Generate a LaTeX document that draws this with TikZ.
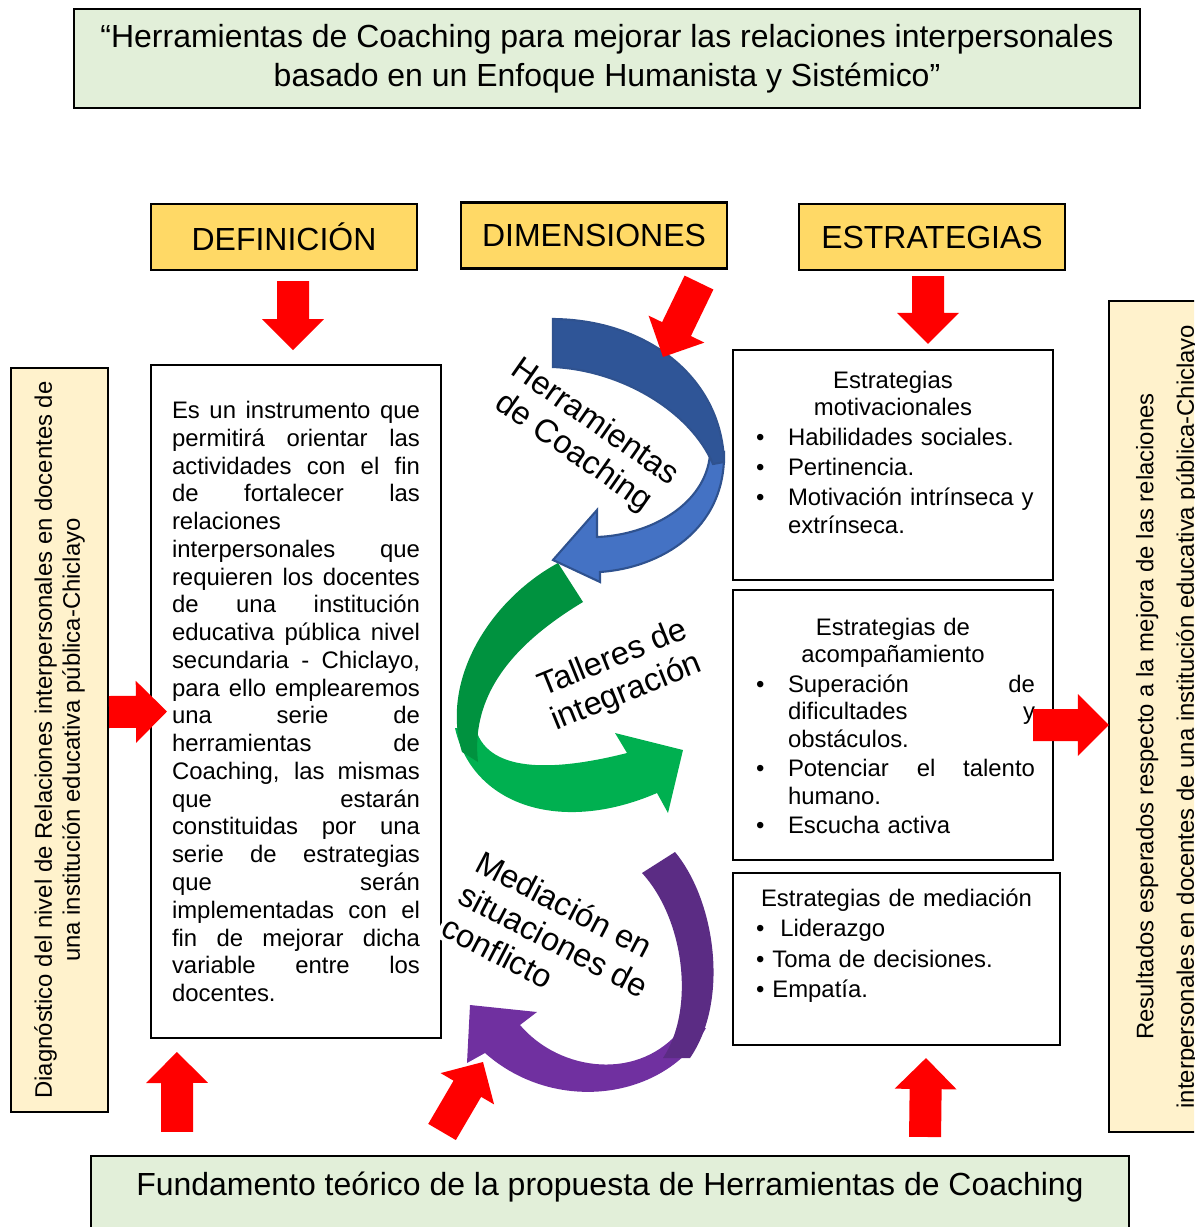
\documentclass[tikz,border=0pt]{standalone}
\usepackage{fontspec}
\setmainfont{Liberation Sans}
\usetikzlibrary{calc, positioning}
\definecolor{titlegreen}{HTML}{E2EFD9}
\definecolor{headgold}{HTML}{FFD966}
\definecolor{sidecream}{HTML}{FFF2CC}
\definecolor{arrowred}{HTML}{FF0000}
\definecolor{bluedark}{HTML}{2F5597}
\definecolor{bluelight}{HTML}{4472C4}
\definecolor{blueedge}{HTML}{2F528F}
\definecolor{greendark}{HTML}{00923F}
\definecolor{greenlight}{HTML}{00B050}
\definecolor{purpledark}{HTML}{5B2C84}
\definecolor{purplelight}{HTML}{7030A0}
\newcommand\titlesize{\fontsize{18.2}{22.2}\selectfont}
\newcommand\bodysize{\fontsize{13.6}{15.8}\selectfont}
\newcommand\sidesize{\fontsize{13.6}{16}\selectfont}
\newcommand\armsize{\fontsize{18.5}{20.8}\selectfont}
\newcommand\bul[1]{\par\leftskip=0pt\rightskip=0pt\parfillskip=0pt plus 1fil\hangindent=0.74cm\hangafter=1\noindent\makebox[0.74cm][l]{\hspace{0.1cm}\textbullet}#1}
\hyphenpenalty=10000
\exhyphenpenalty=10000

\begin{document}
\begin{tikzpicture}[x=0.02cm, y=-0.02cm]
      \tikzstyle{headbox}=[draw, line width=1.2pt, fill=headgold, minimum width=5.32cm, minimum height=1.32cm, font=\titlesize]
      \tikzstyle{plainbox}=[draw, line width=1.2pt, fill=white]
      \tikzstyle{sidebox}=[draw, line width=1.2pt, fill=sidecream, rotate=90, align=center, font=\sidesize]
      \tikzstyle{esttext}=[inner sep=0pt, text width=5.68cm, font=\bodysize]
      \tikzstyle{armlabel}=[fill=white, inner sep=2pt, align=center, font=\armsize]
      \tikzstyle{fatarrow}=[fill=arrowred, to path={let \p1=(\tikztostart), \p2=(\tikztotarget), \p3=($(\p2)!0.62cm!(\p1)$) in
        ($(\p1)!0.32cm!90:(\p2)$) -- ($(\p3)!0.32cm!90:(\p2)$) -- ($(\p3)!0.62cm!90:(\p2)$) -- (\p2)
        -- ($(\p3)!0.62cm!-90:(\p2)$) -- ($(\p3)!0.32cm!-90:(\p2)$) -- ($(\p1)!0.32cm!-90:(\p2)$) -- cycle}]
      \useasboundingbox (0,0) rectangle (1194,1227);
      \clip (0,0) rectangle (1194,1227);

      \node[draw, line width=1.2pt, fill=titlegreen, minimum width=21.32cm, minimum height=1.98cm, align=center, font=\titlesize] (title) at (607,58.5)
        {“Herramientas de Coaching para mejorar las relaciones interpersonales\\basado en un Enfoque Humanista y Sistémico”};
      \node[headbox] (defhead) at (284,237) {DEFINICIÓN};
      \node[headbox] (dimhead) at (594,235.5) {DIMENSIONES};
      \node[headbox] (esthead) at (932,237) {ESTRATEGIAS};

      \node[sidebox, minimum width=14.88cm, minimum height=1.94cm] (diag) at (59.5,740)
        {Diagnóstico del nivel de Relaciones interpersonales en docentes de\\una institución educativa pública-Chiclayo};
      \node[sidebox, minimum width=16.62cm, minimum height=2.34cm, font=\fontsize{13.6}{23}\selectfont] (res) at (1167.5,716.5)
        {Resultados esperados respecto a la mejora de las relaciones\\interpersonales en docentes de una institución educativa pública-Chiclayo};

      \node[plainbox, minimum width=5.8cm, minimum height=13.46cm, text width=4.96cm, align=justify, font=\bodysize] (defbox) at (296,701.5)
        {Es un instrumento que\linebreak permitirá orientar las\linebreak actividades con el fin\linebreak de fortalecer las\linebreak relaciones\linebreak
         interpersonales que\linebreak requieren los docentes\linebreak de una institución\linebreak educativa pública nivel\linebreak
         secundaria - Chiclayo,\linebreak para ello emplearemos\linebreak una serie de\linebreak herramientas de\linebreak
         Coaching, las mismas\linebreak que estarán\linebreak constituidas por una\linebreak serie de estrategias\linebreak que serán\linebreak
         implementadas con el\linebreak fin de mejorar dicha\linebreak variable entre los\linebreak docentes.};

      \node[plainbox, minimum width=6.4cm, minimum height=4.6cm] (est1) at (893,465) {};
      \node[esttext, below=0.43cm of est1.north] (est1text)
        {\parskip=1.2pt\centering Estrategias\\motivacionales
         \bul{Habilidades sociales.}
         \bul{Pertinencia.}
         \bul{Motivación intrínseca y\linebreak extrínseca.}\par};
      \node[plainbox, minimum width=6.4cm, minimum height=5.4cm] (est2) at (893,725) {};
      \node[esttext, below=0.57cm of est2.north] (est2text)
        {\parskip=0.8pt\centering Estrategias de\\acompañamiento
         \bul{Superación\hfill de\linebreak dificultades\hfill y\linebreak obstáculos.}
         \bul{Potenciar\hfill el\hfill talento\linebreak humano.}
         \bul{Escucha activa}\par};
      \node[plainbox, minimum width=6.54cm, minimum height=3.44cm] (est3) at (896.5,959) {};
      \node[esttext, text width=5.62cm, below=0.33cm of est3.north] (est3text)
        {\parskip=1.5pt\centering Estrategias de mediación\par\raggedright
         \textbullet\ \ Liderazgo\par
         \textbullet\ Toma de decisiones.\par
         \textbullet\ Empatía.\par};

      \node[draw, line width=1.2pt, fill=titlegreen, minimum width=20.76cm, minimum height=1.8cm] (fund) at (610,1201) {};
      \node[font=\titlesize] (fundtext) at ($(fund.north)+(0,32)$) {Fundamento teórico de la propuesta de Herramientas de Coaching};

      \path[fill=greenlight] (455,728) .. controls (472,805) and (560,835) .. (657,793) -- (668,813) -- (683,750) -- (615,733)
        -- (627,753) .. controls (560,770) and (490,775) .. (476,730) -- cycle;
      \path[fill=greendark] (558,563) .. controls (490,600) and (440,680) .. (462,752) -- (478,762)
        .. controls (470,690) and (520,640) .. (583,602) -- cycle;
      \path[fill=bluelight, draw=blueedge, line width=1.2pt] (724,452) .. controls (726,530) and (660,568) .. (600,572) -- (600,582)
        -- (553,560) -- (597,510) -- (597,537) .. controls (650,535) and (705,505) .. (710,455) -- cycle;
      \path[fill=bluedark, draw=blueedge, line width=1.2pt] (553,319) .. controls (650,320) and (722,380) .. (724,462) -- (713,464)
        .. controls (690,410) and (620,370) .. (553,367) -- cycle;
      \path[fill=purplelight] (706,1028) .. controls (665,1100) and (555,1115) .. (485,1053) -- (467,1063) -- (470,1005) -- (537,1012)
        -- (520,1025) .. controls (560,1072) and (640,1082) .. (682,1028) -- cycle;
      \path[fill=purpledark] (675,852) .. controls (715,900) and (730,1000) .. (690,1058) -- (663,1058)
        .. controls (695,1010) and (685,920) .. (642,873) -- cycle;
      \coordinate (bluetop) at (663,357);
      \coordinate (purplehead) at (483,1062);

      \node[armlabel, fill=none, rotate=-35] (coachlabel) at (584,438) {Herramientas\\de Coaching};
      \node[armlabel, rotate=22] (tallerlabel) at (620,676) {Talleres de\\integración};
      \node[armlabel, rotate=-27.5, align=left] (medlabel) at (554,940) {Mediación en\\situaciones de\\conflicto};

      \path[fatarrow] ($(defhead.south)+(9,10)$) to ($(defbox.north)+(-3,-14)$);
      \path[fatarrow] ($(dimhead.south)+(105,13)$) to (bluetop);
      \path[fatarrow] ($(esthead.south)+(-4,5)$) to ($(est1.north)+(35,-5)$);
      \path[fatarrow] ($(diag.south)+(0,-28)$) to ($(defbox.west)+(17,10)$);
      \path[fatarrow] ($(est2.east)+(-21,0)$) to ($(res.north)+(1,8.5)$);
      \path[fatarrow] ($(fund.north west)+(87,-23)$) to ($(defbox.south west)+(27,13)$);
      \path[fatarrow] ($(fund.north west)+(352,-23)$) to (purplehead);
      \path[fatarrow] ($(fund.north west)+(835,-18)$) to ($(est3.south)+(29.5,12)$);
    \end{tikzpicture}
\end{document}
